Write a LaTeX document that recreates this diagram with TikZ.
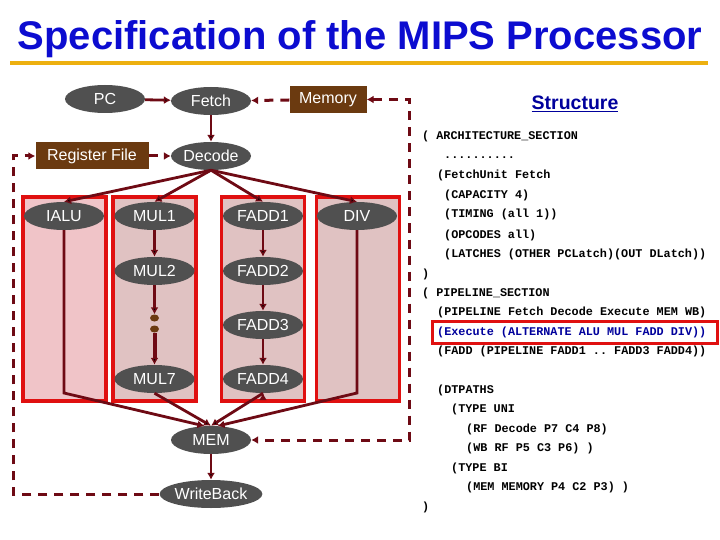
\documentclass[tikz,border=0pt]{standalone}
\usepackage{fontspec}
\setmainfont{Liberation Sans}
\setmonofont{Liberation Mono}
\usetikzlibrary{arrows.meta,shapes.geometric}
\definecolor{wire}{HTML}{6E0A14}
\definecolor{stage}{HTML}{505050}
\definecolor{store}{HTML}{6B3A10}
\definecolor{titleblue}{HTML}{0C0CD0}
\definecolor{codeblue}{HTML}{00009C}
\definecolor{laneline}{HTML}{E01010}
\definecolor{lanepink}{HTML}{F0C4C8}
\definecolor{lanerose}{HTML}{E0C2C2}
\definecolor{rule}{HTML}{EDB010}
\tikzset{
unit/.style={ellipse,fill=stage,text=white,minimum width=80pt,minimum height=28pt,inner sep=0pt,font=\fontsize{16}{18}\selectfont},
storage/.style={rectangle,fill=store,text=white,minimum height=27pt,inner sep=0pt,font=\fontsize{16}{18}\selectfont},
lane/.style={rectangle,draw=laneline,line width=3.5pt,fill=#1,inner sep=0pt},
code/.style={anchor=base west,inner sep=0pt,font=\ttfamily\bfseries\fontsize{11.8}{13}\selectfont},
dot/.style={ellipse,fill=store,minimum width=9pt,minimum height=7pt,inner sep=0pt},
flow/.style={->,draw=wire,line width=2.8pt,>={Latex[length=7pt,width=8pt]}},
bus/.style={flow,line width=3pt,dash pattern=on 9pt off 7pt}
}
\begin{document}
\begin{tikzpicture}[x=1pt,y=-1pt]
\useasboundingbox (0,0) rectangle (720,540);
\node[inner sep=0pt,text=titleblue,font=\bfseries\fontsize{40}{44}\selectfont] (title) at (360,39) {Specification of the MIPS Processor};
\fill[rule] (10,61) rectangle (708,65);
% execute lanes
\node[lane=lanepink,minimum width=83pt,minimum height=204pt] (laneI) at (64.5,299) {};
\node[lane=lanerose,minimum width=83pt,minimum height=204pt] (laneM) at (154.5,299) {};
\node[lane=lanerose,minimum width=83pt,minimum height=204pt] (laneF) at (263,299) {};
\node[lane=lanerose,minimum width=83pt,minimum height=204pt] (laneD) at (358,299) {};
% units
\node[unit] (PC) at (105,99) {PC};
\node[unit] (Fetch) at (211,101) {Fetch};
\node[storage,minimum width=77pt] (Memory) at (328,99.5) {Memory};
\node[storage,minimum width=113pt] (RF) at (92,156) {Register File};
\node[unit] (Decode) at (211,156) {Decode};
\node[unit] (IALU) at (64,216) {IALU};
\node[unit] (MUL1) at (154.5,216) {MUL1};
\node[unit] (FADD1) at (263,216) {FADD1};
\node[unit] (DIV) at (357,216) {DIV};
\node[unit] (MUL2) at (154.5,271) {MUL2};
\node[unit] (FADD2) at (263,271) {FADD2};
\node[unit] (FADD3) at (263,325) {FADD3};
\node[dot] (dotA) at (154.5,318) {};
\node[dot] (dotB) at (154.5,329) {};
\node[unit] (MUL7) at (154.5,379) {MUL7};
\node[unit] (FADD4) at (263,379) {FADD4};
\node[unit] (MEM) at (211,440) {MEM};
\node[unit,minimum width=96pt] (WB) at (211,494) {WriteBack};
\coordinate (memCorner) at (409,99.5);
\coordinate (memDown) at (409,440);
\coordinate (wbCorner) at (13,494);
\coordinate (rfCorner) at (13,156);
\coordinate (ialuBend) at (64,393);
\coordinate (divBend) at (357,393);
% connectors
\path[flow]
(PC) edge (Fetch)
(Fetch) edge (Decode)
(Decode.south) edge (IALU.north)
(Decode.south) edge (MUL1.north)
(Decode.south) edge (FADD1.north)
(Decode.south) edge (DIV.north)
(MUL1) edge (MUL2)
(FADD1) edge (FADD2)
(FADD2) edge (FADD3)
(FADD3) edge (FADD4)
(MUL2) edge (dotA)
(dotB) edge[line width=4pt] (MUL7)
(MUL7.south) edge (MEM.north)
(FADD4.south) edge (MEM.north)
(MEM) edge (WB);
\draw[flow] (IALU) -- (ialuBend) -- (MEM.115);
\draw[flow] (DIV) -- (divBend) -- (MEM.65);
\draw[bus,<->] (Memory.east) -- (memCorner) -- (memDown) -- (MEM.east);
\draw[bus] (Memory) -- (Fetch);
\draw[bus] (RF) -- (Decode);
\draw[bus] (WB.west) -- (wbCorner) -- (rfCorner) -- (RF);
% structure text
\node[inner sep=0pt,text=codeblue,font=\bfseries\fontsize{19.5}{22}\selectfont] (structure) at (575,104) {\underline{Structure}};
\node[rectangle,draw=laneline,line width=3pt,fill=white,minimum width=285pt,minimum height=22pt,inner sep=0pt] (hilite) at (574.5,332) {};
\node[code] (c1) at (422,140) {( ARCHITECTURE\_SECTION};
\node[code] (c2) at (444,159) {..........};
\node[code] (c3) at (437,179) {(FetchUnit Fetch};
\node[code] (c4) at (444,199) {(CAPACITY 4)};
\node[code] (c5) at (444,218) {(TIMING (all 1))};
\node[code] (c6) at (444,238) {(OPCODES all)};
\node[code] (c7) at (444,257) {(LATCHES (OTHER PCLatch)(OUT DLatch))};
\node[code] (c8) at (422,277) {)};
\node[code] (c9) at (422,296) {( PIPELINE\_SECTION};
\node[code] (c10) at (437,315) {(PIPELINE Fetch Decode Execute MEM WB)};
\node[code,text=codeblue] (c11) at (437,335) {(Execute (ALTERNATE ALU MUL FADD DIV))};
\node[code] (c12) at (437,354) {(FADD (PIPELINE FADD1 .. FADD3 FADD4))};
\node[code] (c13) at (437,393) {(DTPATHS};
\node[code] (c14) at (451,412) {(TYPE UNI};
\node[code] (c15) at (466,432) {(RF Decode P7 C4 P8)};
\node[code] (c16) at (466,451) {(WB RF P5 C3 P6) )};
\node[code] (c17) at (451,471) {(TYPE BI};
\node[code] (c18) at (466,490) {(MEM MEMORY P4 C2 P3) )};
\node[code] (c19) at (422,510) {)};
\end{tikzpicture}
\end{document}
